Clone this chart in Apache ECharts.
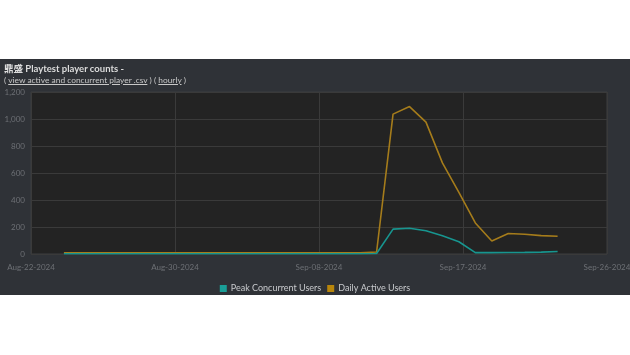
<!DOCTYPE html>
<html><head><meta charset="utf-8">
<script src="https://cdn.jsdelivr.net/npm/echarts@6/dist/echarts.min.js"></script>
<style>
html,body{margin:0;padding:0;background:#fff;width:630px;height:355px;overflow:hidden;font-family:Lato,"Noto Sans","Noto Sans CJK SC",sans-serif;}
#panel{position:absolute;left:0;top:59px;width:630px;height:236px;background:#2f3237;}
#t1{position:absolute;left:4px;top:2px;font-size:9.5px;font-weight:bold;color:#dcdcdc;}
#t2{position:absolute;left:4px;top:15.5px;font-size:8.4px;color:#c8c8c8;}
#t2 span{text-decoration:underline;}
#chart{position:absolute;left:0;top:0;width:630px;height:236px;}
</style></head>
<body>
<div id="panel">
<div id="chart"></div>
<div id="t1">鼎盛 Playtest player counts -</div>
<div id="t2">( <span>view active and concurrent player .csv</span> ) ( <span>hourly</span> )</div>
</div>
<script>
var startDate = "2024-08-22";
var endDate = "2024-09-26";
var dates = ["2024-08-24","2024-08-25","2024-08-26","2024-08-27","2024-08-28","2024-08-29","2024-08-30","2024-08-31","2024-09-01","2024-09-02","2024-09-03","2024-09-04","2024-09-05","2024-09-06","2024-09-07","2024-09-08","2024-09-09","2024-09-10","2024-09-11","2024-09-12","2024-09-13","2024-09-14","2024-09-15","2024-09-16","2024-09-17","2024-09-18","2024-09-19","2024-09-20","2024-09-21","2024-09-22","2024-09-23"];
var dailyActive = [8,8,8,8,8,8,8,8,8,8,8,8,8,8,8,8,8,8,8,15,1036,1092,977,675,456,230,96,152,146,136,131];
var peakConcurrent = [2,2,2,2,2,2,2,2,2,2,2,2,2,2,2,2,2,2,2,4,184,191,172,135,91,10,10,11,12,14,18];
var seriesNames = ["Peak Concurrent Users","Daily Active Users"];
var months = ["Jan","Feb","Mar","Apr","May","Jun","Jul","Aug","Sep","Oct","Nov","Dec"];

var DAY = 86400000;
var t0 = Date.UTC(2024,7,22);
function dayIndex(s){var p=s.split("-");return Math.round((Date.UTC(+p[0],+p[1]-1,+p[2])-t0)/DAY);}
function fmt(v){var d=new Date(t0+Math.floor(v+1e-6)*DAY);var dd=d.getUTCDate();return months[d.getUTCMonth()]+"-"+(dd<10?"0"+dd:dd)+"-"+d.getUTCFullYear();}
var xMax = dayIndex(endDate);
var pcu = dates.map(function(d,i){return [dayIndex(d),peakConcurrent[i]];});
var dau = dates.map(function(d,i){return [dayIndex(d),dailyActive[i]];});

var chart = echarts.init(document.getElementById("chart"),null,{renderer:"canvas"});
chart.setOption({
  backgroundColor:"transparent",
  animation:false,
  textStyle:{fontFamily:"Lato"},
  grid:{left:31,right:23,top:33,bottom:41,show:true,backgroundColor:"#232323",borderColor:"#3c3e42",borderWidth:1,outerBoundsMode:"none",containLabel:false},
  xAxis:{type:"value",min:0,max:xMax,interval:xMax/4,
    axisLine:{show:false},axisTick:{show:false},
    splitLine:{show:true,lineStyle:{color:"#3a3a3a",width:1}},
    axisLabel:{color:"#6d7075",fontSize:8,margin:9,formatter:fmt,showMinLabel:true,showMaxLabel:true}},
  yAxis:{type:"value",min:0,max:1200,interval:200,
    axisLine:{show:false},axisTick:{show:false},
    splitLine:{show:true,lineStyle:{color:"#3a3a3a",width:1}},
    axisLabel:{color:"#6d7075",fontSize:8,margin:6,formatter:function(v){return v.toLocaleString("en-US");}}},
  legend:{top:220,left:"center",itemWidth:7,itemHeight:7,itemGap:6,icon:"rect",
    textStyle:{color:"#c8cacd",fontSize:9,padding:[0,0,0,-1]},data:seriesNames},
  series:[
    {name:seriesNames[1],type:"line",data:dau,showSymbol:false,symbol:"none",lineStyle:{color:"#a57c1b",width:1.6},itemStyle:{color:"#b8860b"},z:2},
    {name:seriesNames[0],type:"line",data:pcu,showSymbol:false,symbol:"none",lineStyle:{color:"#17958f",width:1.6},itemStyle:{color:"#1a9e97"},z:3}
  ]
});
</script>
</body></html>
